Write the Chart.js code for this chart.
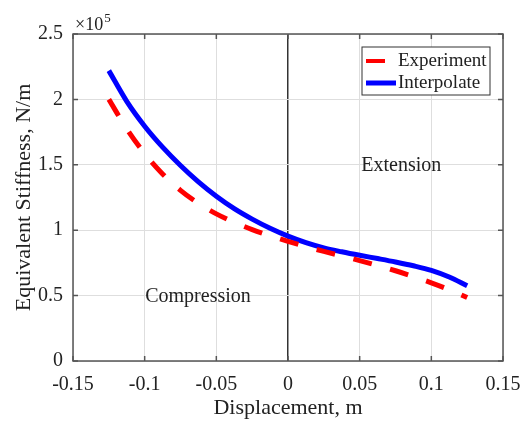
<!DOCTYPE html>
<html>
<head>
<meta charset="utf-8">
<script src="https://cdn.jsdelivr.net/npm/chart.js@4.4.1/dist/chart.umd.min.js"></script>
<style>
  html, body { margin: 0; padding: 0; background: #fff; }
</style>
</head>
<body>
<canvas id="myChart" width="522" height="421"></canvas>
<script>
// values (stiffness in units of 1e5 N/m)
const displacement = [-0.125, -0.1125, -0.1, -0.0875, -0.075, -0.0625, -0.05, -0.0375, -0.025, -0.0125, 0,
  0.0125, 0.025, 0.0375, 0.05, 0.0625, 0.075, 0.0875, 0.1, 0.1125, 0.125];
const experiment = [2.00, 1.775, 1.585, 1.43, 1.305, 1.205, 1.125, 1.06, 1.005, 0.958, 0.915,
  0.875, 0.838, 0.803, 0.768, 0.73, 0.69, 0.645, 0.598, 0.545, 0.485];
const interpolate = [2.22, 1.985, 1.795, 1.635, 1.495, 1.37, 1.26, 1.165, 1.085, 1.015, 0.955,
  0.905, 0.865, 0.835, 0.808, 0.783, 0.757, 0.728, 0.693, 0.642, 0.575];
const xTicks = [-0.15, -0.1, -0.05, 0, 0.05, 0.1, 0.15];
const yTicks = [0, 0.5, 1, 1.5, 2, 2.5];
const seriesNames = ["Experiment", "Interpolate"];
const regionLabels = ["Compression", "Extension"];
const exponentText = ["\u00d710", "5"];

const serif = '"Liberation Serif", "Times New Roman", serif';
const ink = "#222";

function pts(ys) {
  return displacement.map(function (x, i) { return { x: x, y: ys[i] }; });
}

const decor = {
  id: "decor",
  afterDraw(chart) {
    const ctx = chart.ctx;
    const a = chart.chartArea;
    const xs = chart.scales.x;
    const ys = chart.scales.y;
    ctx.save();

    // box round the axes with inward ticks
    ctx.strokeStyle = "#555";
    ctx.lineWidth = 1.5;
    ctx.strokeRect(a.left, a.top, a.right - a.left, a.bottom - a.top);
    ctx.beginPath();
    xTicks.forEach(function (v) {
      const px = xs.getPixelForValue(v);
      ctx.moveTo(px, a.bottom); ctx.lineTo(px, a.bottom - 5);
      ctx.moveTo(px, a.top); ctx.lineTo(px, a.top + 5);
    });
    yTicks.forEach(function (v) {
      const py = ys.getPixelForValue(v);
      ctx.moveTo(a.left, py); ctx.lineTo(a.left + 5, py);
      ctx.moveTo(a.right, py); ctx.lineTo(a.right - 5, py);
    });
    ctx.stroke();

    // x10^5 exponent
    ctx.fillStyle = ink;
    ctx.textAlign = "left";
    ctx.textBaseline = "alphabetic";
    ctx.font = "18px " + serif;
    ctx.fillText(exponentText[0], a.left + 2, a.top - 4);
    const w = ctx.measureText(exponentText[0]).width;
    ctx.font = "13px " + serif;
    ctx.fillText(exponentText[1], a.left + 3 + w, a.top - 12);

    // region labels
    ctx.font = "20px " + serif;
    ctx.textAlign = "center";
    ctx.textBaseline = "middle";
    ctx.fillText(regionLabels[0], xs.getPixelForValue(-0.0628), ys.getPixelForValue(0.49));
    ctx.fillText(regionLabels[1], xs.getPixelForValue(0.079), ys.getPixelForValue(1.49));

    // legend
    const lx = a.right - 141, ly = a.top + 13, lw = 128, lh = 48;
    ctx.fillStyle = "#fff";
    ctx.fillRect(lx, ly, lw, lh);
    ctx.strokeStyle = "#333";
    ctx.lineWidth = 1;
    ctx.strokeRect(lx, ly, lw, lh);
    const ds = chart.data.datasets;
    ctx.lineCap = "butt";
    ctx.strokeStyle = ds[0].borderColor;
    ctx.lineWidth = 4;
    ctx.beginPath(); ctx.moveTo(lx + 4, ly + 14); ctx.lineTo(lx + 23, ly + 14); ctx.stroke();
    ctx.strokeStyle = ds[1].borderColor;
    ctx.lineWidth = 5;
    ctx.beginPath(); ctx.moveTo(lx + 4, ly + 36); ctx.lineTo(lx + 34, ly + 36); ctx.stroke();
    ctx.fillStyle = ink;
    ctx.font = "19px " + serif;
    ctx.textAlign = "left";
    ctx.fillText(ds[0].label, lx + 36, ly + 14);
    ctx.fillText(ds[1].label, lx + 36, ly + 36);

    ctx.restore();
  }
};

function noPad(scale) {
  scale.paddingLeft = 0;
  scale.paddingRight = 0;
  scale.paddingTop = 0;
  scale.paddingBottom = 0;
}

const config = {
  type: "line",
  data: {
    datasets: [
      {
        label: seriesNames[0],
        data: pts(experiment),
        borderColor: "#ff0000",
        borderWidth: 5,
        borderDash: [19, 19],
        pointRadius: 0,
        cubicInterpolationMode: "monotone",
        fill: false,
      },
      {
        label: seriesNames[1],
        data: pts(interpolate),
        borderColor: "#0000ff",
        borderWidth: 5,
        pointRadius: 0,
        cubicInterpolationMode: "monotone",
        fill: false,
      },
    ],
  },
  options: {
    responsive: false,
    animation: false,
    devicePixelRatio: 1,
    layout: { padding: { left: 0, right: 19, top: 34, bottom: 0 } },
    plugins: {
      legend: { display: false },
      tooltip: { enabled: false },
    },
    scales: {
      x: {
        type: "linear",
        min: -0.15,
        max: 0.15,
        afterBuildTicks: function (s) { s.ticks = xTicks.map(function (v) { return { value: v }; }); },
        afterFit: function (s) { s.height = 60; noPad(s); },
        ticks: {
          color: ink,
          font: { family: serif, size: 20 },
          padding: 12,
          maxRotation: 0,
          callback: function (v) { return String(v); },
        },
        grid: {
          drawTicks: false,
          color: function (c) { return c.tick && c.tick.value === 0 ? "#333" : "#dedede"; },
          lineWidth: function (c) { return c.tick && c.tick.value === 0 ? 1.5 : 1; },
        },
        border: { display: false },
        title: {
          display: true,
          text: "Displacement, m",
          color: ink,
          font: { family: serif, size: 22 },
          padding: { top: 8, bottom: 0 },
        },
      },
      y: {
        min: 0,
        max: 2.5,
        afterBuildTicks: function (s) { s.ticks = yTicks.map(function (v) { return { value: v }; }); },
        afterFit: function (s) { s.width = 73; noPad(s); },
        ticks: {
          color: ink,
          font: { family: serif, size: 20 },
          padding: 10,
          callback: function (v) { return String(v); },
        },
        grid: { drawTicks: false, color: "#dedede" },
        border: { display: false },
        title: {
          display: true,
          text: "Equivalent Stiffness, N/m",
          color: ink,
          font: { family: serif, size: 22 },
          padding: { top: 11, bottom: 0 },
        },
      },
    },
  },
  plugins: [decor],
};

new Chart(document.getElementById("myChart"), config);
</script>
</body>
</html>
